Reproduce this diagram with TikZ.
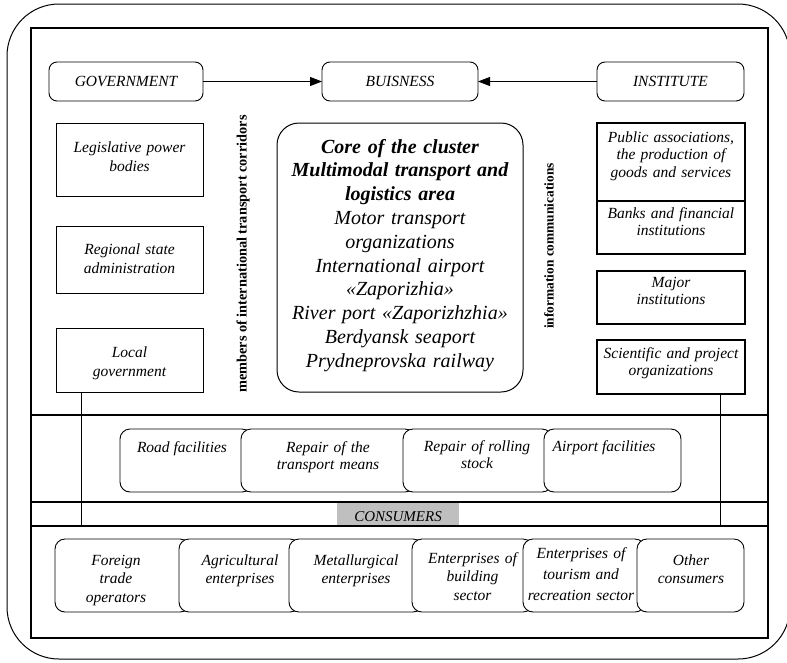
\documentclass[tikz,border=0pt]{standalone}
\usepackage{fontspec}
\setmainfont{Liberation Serif}
\usetikzlibrary{arrows.meta}
\newcommand\myfs[2]{\fontsize{#1}{#2}\selectfont}
\begin{document}
\begin{tikzpicture}[x=1pt,y=-1pt,
  every node/.style={inner sep=0pt, outer sep=0pt},
  rbox/.style={draw, rounded corners=8pt, line width=0.9pt, fill=white},
  cbox/.style={draw, rounded corners=10pt, line width=0.9pt, fill=white},
  sbox/.style={draw, line width=0.9pt},
  tbox/.style={draw, line width=1.4pt},
  txt/.style={anchor=base, align=center, font=\myfs{15.5}{18.5}\itshape},
  vtxt/.style={rotate=90, font=\bfseries},
  arr/.style={line width=0.9pt, -{Triangle[length=12pt,width=9pt]}},
  divider/.style={line width=1.8pt},
  thinline/.style={line width=0.9pt}
]
\useasboundingbox (0,0) rectangle (787,662);
% frames
\draw[line width=1pt, rounded corners=52pt] (7,4) rectangle (790,659);
\draw[line width=1.5pt] (31,28) rectangle (768,638);

% top row
\node[rbox, minimum width=154pt, minimum height=39pt] (gov) at (126,81.5) {};
\node[txt] (gov-t) at (126,86.5) {GOVERNMENT};
\node[rbox, minimum width=156pt, minimum height=39pt] (bus) at (400,81.5) {};
\node[txt] (bus-t) at (400,86.5) {BUISNESS};
\node[rbox, minimum width=147pt, minimum height=39pt] (inst) at (670.5,81.5) {};
\node[txt] (inst-t) at (670.5,86.5) {INSTITUTE};
\draw[arr] (gov.east) -- (bus.west);
\draw[arr] (inst.west) -- (bus.east);

% left column
\node[sbox, minimum width=147pt, minimum height=73pt] (leg) at (129.5,159.5) {};
\node[txt, text width=145pt, font=\myfs{15.5}{19}\itshape] (leg-t) at (129.5,152) {Legislative power\\ bodies};
\node[sbox, minimum width=147pt, minimum height=67pt] (reg) at (129.5,259.5) {};
\node[txt, text width=145pt, font=\myfs{15.5}{19}\itshape] (reg-t) at (129.5,254) {Regional state\\ administration};
\node[sbox, minimum width=147pt, minimum height=64pt] (loc) at (129.5,360) {};
\node[txt, text width=145pt, font=\myfs{15.5}{19}\itshape] (loc-t) at (129.5,357) {Local\\ government};

% vertical labels
\node[vtxt, font=\myfs{14.3}{16}\bfseries] (mitc) at (243,254) {members of international transport corridors};
\node[vtxt, font=\myfs{13.4}{15}\bfseries] (icom) at (549,246) {information communications};

% core
\node[draw, line width=1pt, rounded corners=22pt, minimum width=246pt, minimum height=269pt] (core) at (400,257.5) {};
\node[txt, text width=244pt, font=\myfs{20}{23.8}\itshape] (core-t) at (400,153)
  {{\bfseries Core of the cluster\\ Multimodal transport and\\ logistics area}\\
   Motor transport\\ organizations\\ International airport\\ «Zaporizhia»\\
   River port «Zaporizhzhia»\\ Berdyansk seaport\\ Prydneprovska railway};

% right column
\node[tbox, minimum width=148pt, minimum height=78pt] (pub) at (671,162) {};
\node[txt, text width=146pt, font=\myfs{15.5}{17.5}\itshape] (pub-t) at (671,142) {Public associations,\\ the production of\\ goods and services};
\node[tbox, minimum width=148pt, minimum height=53pt] (bank) at (671,227.5) {};
\node[txt, text width=146pt, font=\myfs{15.5}{17.5}\itshape] (bank-t) at (671,218) {Banks and financial\\ institutions};
\node[tbox, minimum width=148pt, minimum height=53pt] (maj) at (671,297.5) {};
\node[txt, text width=146pt, font=\myfs{15.5}{17.5}\itshape] (maj-t) at (671,287) {Major\\ institutions};
\node[tbox, minimum width=148pt, minimum height=54pt] (sci) at (671,367) {};
\node[txt, text width=146pt, font=\myfs{15.5}{17.5}\itshape] (sci-t) at (671,358) {Scientific and project\\ organizations};

% dividers
\coordinate (dl1) at (31,415); \coordinate (dr1) at (768,415);
\coordinate (dl2) at (31,502); \coordinate (dr2) at (768,502);
\coordinate (dl3) at (31,526); \coordinate (dr3) at (768,526);
\node[fill=gray!50, minimum width=122pt, minimum height=23pt] (cons) at (398,514.5) {};
\node[txt, font=\myfs{15}{18}\itshape] (cons-t) at (398,521) {CONSUMERS};
\draw[divider] (dl1) -- (dr1);
\draw[divider] (dl2) -- (dr2);
\draw[line width=1.3pt] (dl3) -- (dr3);
\coordinate (vl) at (81,526);
\coordinate (vr) at (720,526);
\draw[thinline] (vl |- loc.south) -- (vl);
\draw[thinline] (vr |- sci.south) -- (vr);

% middle row
\node[cbox, minimum width=132pt, minimum height=63pt] (road) at (186,460.5) {};
\node[txt] (road-t) at (182,452) {Road facilities};
\node[cbox, minimum width=174pt, minimum height=63pt] (rep1) at (328,460.5) {};
\node[txt, text width=170pt, font=\myfs{15.5}{17.5}\itshape] (rep1-t) at (328,452) {Repair of the\\ transport means};
\node[cbox, minimum width=149pt, minimum height=63pt] (rep2) at (477.5,460.5) {};
\node[txt, text width=140pt, font=\myfs{15.5}{17.5}\itshape] (rep2-t) at (477,451) {Repair of rolling\\ stock};
\node[cbox, minimum width=137pt, minimum height=63pt] (air) at (612.5,460.5) {};
\node[txt] (air-t) at (604,451) {Airport facilities};

% bottom row
\node[cbox, minimum width=135pt, minimum height=73pt] (fto) at (122.5,575.5) {};
\node[txt, text width=120pt] (fto-t) at (116,565) {Foreign\\ trade\\ operators};
\node[cbox, minimum width=121pt, minimum height=73pt] (agr) at (239.5,575.5) {};
\node[txt, text width=110pt] (agr-t) at (240,565) {Agricultural\\ enterprises};
\node[cbox, minimum width=134pt, minimum height=73pt] (met) at (356,575.5) {};
\node[txt, text width=120pt] (met-t) at (356,565) {Metallurgical\\ enterprises};
\node[cbox, minimum width=121pt, minimum height=73pt] (bld) at (472.5,575.5) {};
\node[txt, text width=110pt] (bld-t) at (472.5,563) {Enterprises of\\ building\\ sector};
\node[cbox, minimum width=122pt, minimum height=73pt] (tour) at (584,575.5) {};
\node[txt, text width=118pt, font=\myfs{15.5}{21}\itshape] (tour-t) at (581,558) {Enterprises of\\ tourism and\\ recreation sector};
\node[cbox, minimum width=107pt, minimum height=73pt] (oth) at (690.5,575.5) {};
\node[txt, text width=100pt] (oth-t) at (691,565) {Other\\ consumers};
\end{tikzpicture}
\end{document}
